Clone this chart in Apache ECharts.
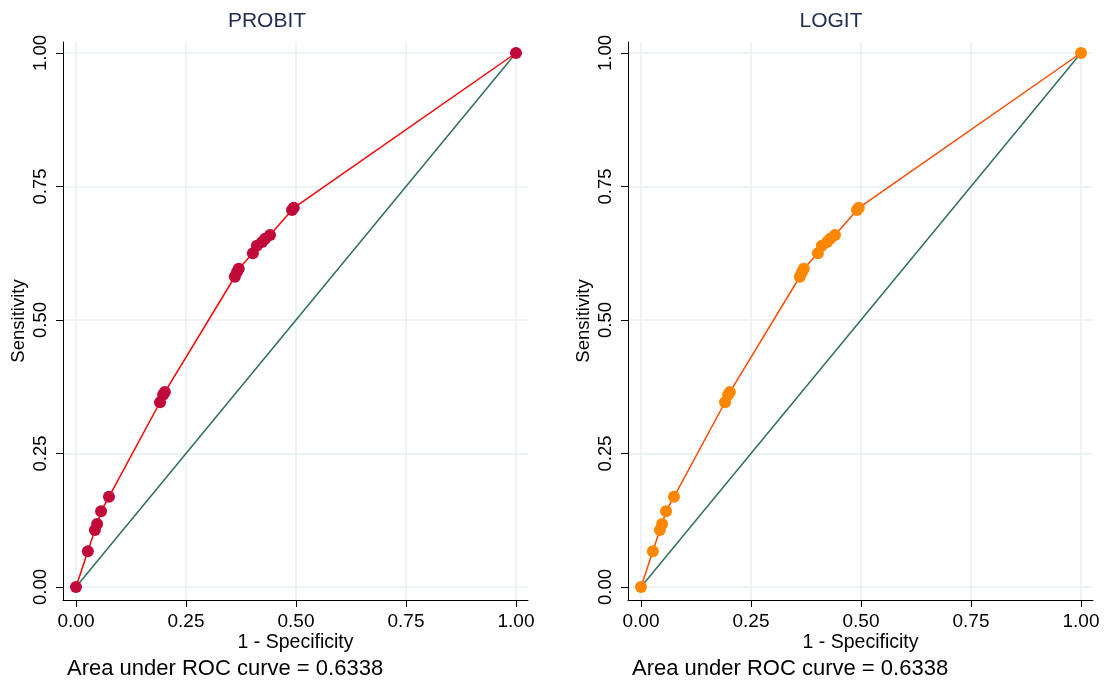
<!DOCTYPE html>
<html><head><meta charset="utf-8">
<script src="https://cdn.jsdelivr.net/npm/echarts@6/dist/echarts.min.js"></script>
<style>html,body{margin:0;padding:0;background:#fff}#c{width:1104px;height:682px}</style>
</head><body><div id="c"></div>
<script>
const panelTitles = ['PROBIT', 'LOGIT'];
const tickValues = [0, 0.25, 0.5, 0.75, 1];
const probitFPR = [0, 0.027, 0.043, 0.048, 0.057, 0.075, 0.191, 0.198, 0.202, 0.361, 0.366, 0.370, 0.402, 0.411, 0.423, 0.430, 0.441, 0.491, 0.495, 1];
const probitTPR = [0, 0.067, 0.107, 0.118, 0.142, 0.169, 0.346, 0.360, 0.365, 0.581, 0.590, 0.596, 0.625, 0.639, 0.646, 0.652, 0.659, 0.706, 0.710, 1];
const logitFPR = [0, 0.027, 0.043, 0.048, 0.057, 0.075, 0.191, 0.198, 0.202, 0.361, 0.366, 0.370, 0.402, 0.411, 0.423, 0.430, 0.441, 0.491, 0.495, 1];
const logitTPR = [0, 0.067, 0.107, 0.118, 0.142, 0.169, 0.346, 0.360, 0.365, 0.581, 0.590, 0.596, 0.625, 0.639, 0.646, 0.652, 0.659, 0.706, 0.710, 1];
const refX = [0, 1];
const refY = [0, 1];
const aucText = 'Area under ROC curve = 0.6338';

const FONT = 'Liberation Sans, Arial, sans-serif';
const gridColor = '#e8f0f2';
const fmt = v => v.toFixed(2);

function xAxisCfg(i) {
  return {
    type: 'value', gridIndex: i, min: -0.0295, max: 1.0273,
    name: '1 - Specificity', nameLocation: 'middle', nameGap: 33, nameMoveOverlap: false,
    nameTextStyle: {color: '#000', fontSize: 19.5, fontFamily: FONT},
    axisLine: {show: true, onZero: false, lineStyle: {color: '#000', width: 1}},
    axisTick: {show: true, length: 7, customValues: tickValues, lineStyle: {color: '#000'}},
    axisLabel: {show: true, customValues: tickValues, formatter: fmt, color: '#000', fontSize: 19, fontFamily: FONT, margin: 12},
    splitLine: {show: true, lineStyle: {color: gridColor, width: 1.5}}
  };
}
function yAxisCfg(i) {
  return {
    type: 'value', gridIndex: i, min: -0.0243, max: 1.0206,
    name: 'Sensitivity', nameLocation: 'middle', nameGap: 35, nameMoveOverlap: false,
    nameTextStyle: {color: '#000', fontSize: 18.5, fontFamily: FONT},
    axisLine: {show: true, onZero: false, lineStyle: {color: '#000', width: 1}},
    axisTick: {show: true, length: 7, customValues: tickValues, lineStyle: {color: '#000'}},
    axisLabel: {show: true, customValues: tickValues, formatter: fmt, rotate: 90, color: '#000', fontSize: 18.5, fontFamily: FONT, margin: 13},
    splitLine: {show: true, lineStyle: {color: gridColor, width: 1.5}}
  };
}
const zip = (a, b) => a.map((v, k) => [v, b[k]]);

const chart = echarts.init(document.getElementById('c'), null, {renderer: 'canvas'});
chart.setOption({
  backgroundColor: '#fff',
  animation: false,
  title: [
    {text: panelTitles[0], left: 267, top: 11, padding: 0, textAlign: 'center', textStyle: {color: '#1f2d52', fontSize: 21, fontWeight: 'normal', fontFamily: FONT}},
    {text: panelTitles[1], left: 831, top: 11, padding: 0, textAlign: 'center', textStyle: {color: '#1f2d52', fontSize: 21, fontWeight: 'normal', fontFamily: FONT}},
    {text: aucText, left: 67, top: 658, padding: 0, textStyle: {color: '#000', fontSize: 22, fontWeight: 'normal', fontFamily: FONT}},
    {text: aucText, left: 632, top: 658, padding: 0, textStyle: {color: '#000', fontSize: 22, fontWeight: 'normal', fontFamily: FONT}}
  ],
  grid: [
    {left: 63, width: 465, top: 42, height: 558},
    {left: 628, width: 465, top: 42, height: 558}
  ],
  xAxis: [xAxisCfg(0), xAxisCfg(1)],
  yAxis: [yAxisCfg(0), yAxisCfg(1)],
  series: [
    {type: 'line', xAxisIndex: 0, yAxisIndex: 0, data: zip(refX, refY), showSymbol: false, lineStyle: {color: '#2f6e62', width: 1.5}, z: 2},
    {type: 'line', xAxisIndex: 0, yAxisIndex: 0, data: zip(probitFPR, probitTPR), symbol: 'circle', symbolSize: 12,
      itemStyle: {color: '#c20a3a'}, lineStyle: {color: '#ff0000', width: 1.5}, z: 3},
    {type: 'line', xAxisIndex: 1, yAxisIndex: 1, data: zip(refX, refY), showSymbol: false, lineStyle: {color: '#2f6e62', width: 1.5}, z: 2},
    {type: 'line', xAxisIndex: 1, yAxisIndex: 1, data: zip(logitFPR, logitTPR), symbol: 'circle', symbolSize: 12,
      itemStyle: {color: '#ff8700'}, lineStyle: {color: '#ff4a00', width: 1.5}, z: 3}
  ]
});
</script></body></html>
